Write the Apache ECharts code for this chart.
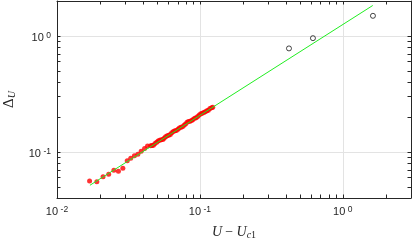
<!DOCTYPE html>
<html>
<head>
<meta charset="utf-8">
<script src="https://cdn.jsdelivr.net/npm/echarts@6/dist/echarts.min.js"></script>
<style>html,body{margin:0;padding:0;background:#fff}#c{width:415px;height:241px}</style>
</head>
<body>
<div id="c"></div>
<script>
// ---- data ----
const redX = [0.0169,0.0190,0.0210,0.0230,0.0250,0.0269,0.0289,0.0310,0.0328,0.0348,0.0368,0.0388,0.0410,0.0430,
  0.0452,0.0462,0.0473,0.0485,0.0498,0.0510,0.0522,0.0536,0.0550,0.0562,0.0575,0.0590,0.0605,0.0621,0.0635,0.0652,
  0.0668,0.0684,0.0702,0.0718,0.0736,0.0755,0.0775,0.0793,0.0813,0.0832,0.0853,0.0875,0.0895,0.0918,0.0942,0.0964,
  0.0989,0.1014,0.1038,0.1064,0.1091,0.1119,0.1146,0.1175,0.1208,0.1230];
const redY = [0.0562,0.0551,0.0611,0.0641,0.0693,0.0679,0.0721,0.0837,0.0879,0.0925,0.0955,0.1014,0.107,0.1125,
  0.113,0.1135,0.114,0.118,0.121,0.124,0.126,0.127,0.128,0.131,0.135,0.138,0.139,0.141,0.146,0.150,
  0.152,0.153,0.157,0.161,0.163,0.165,0.170,0.174,0.180,0.183,0.184,0.186,0.190,0.195,0.197,0.202,
  0.208,0.213,0.215,0.218,0.222,0.226,0.229,0.236,0.240,0.243];
const blackX = [0.42, 0.618, 1.625];
const blackY = [0.78, 0.956, 1.49];
const fitX = [0.017, 1.62];
const fitY = [0.0515, 1.83];
const xMin = 0.01, xMax = 3, yMin = 0.04, yMax = 2;
const xTicks = [0.01,0.02,0.03,0.04,0.05,0.06,0.07,0.08,0.09,0.1,0.2,0.3,0.4,0.5,0.6,0.7,0.8,0.9,1,2,3];
const yTicks = [0.04,0.05,0.06,0.07,0.08,0.09,0.1,0.2,0.3,0.4,0.5,0.6,0.7,0.8,0.9,1,2];
const majorExps = [-2,-1,0];

const zip = (a,b) => a.map((v,i) => [v,b[i]]);
const lg = v => Math.log10(v);
const ink = '#262626';
const sans = 'Liberation Sans';
const serif = 'Liberation Serif';

function decadeLabel(v){
  const e = Math.round(lg(v));
  if (Math.abs(lg(v) - e) > 1e-6 || majorExps.indexOf(e) < 0) return '';
  return '{b|10}{g| }{s|' + e + '}';
}
const labelRich = {
  b: {fontSize: 11, fontFamily: sans, color: ink, lineHeight: 20, padding: [4,0,0,0]},
  g: {fontSize: 9, fontFamily: sans, color: ink, lineHeight: 20},
  s: {fontSize: 8.5, fontFamily: sans, color: ink, lineHeight: 9, verticalAlign: 'top', padding: [5,0,0,0]}
};
const tickOverlay = (pos, vals, min, max, line) => ({
  type: 'value', position: pos, min: lg(min), max: lg(max),
  axisLine: {show: line, onZero: false, lineStyle: {color: ink, width: 1}},
  axisTick: {show: true, inside: true, length: 3.5, customValues: vals.map(lg), lineStyle: {color: ink, width: 1}},
  axisLabel: {show: false}, splitLine: {show: false}
});

const chart = echarts.init(document.getElementById('c'), null, {renderer: 'canvas'});
chart.setOption({
  animation: false,
  backgroundColor: '#fff',
  grid: {left: 57, right: 4, top: 1, bottom: 43, containLabel: false, outerBoundsMode: 'none'},
  xAxis: [
    {type: 'log', logBase: 10, position: 'bottom', min: xMin, max: xMax,
     axisLine: {show: true, onZero: false, lineStyle: {color: ink, width: 1}},
     axisTick: {show: false},
     axisLabel: {formatter: decadeLabel, rich: labelRich, margin: 2, showMinLabel: true, showMaxLabel: true},
     splitLine: {show: true, lineStyle: {color: '#e3e3e3', width: 1}},
     name: '{i|U} {n|\u2212} {i|U}{sub|c}{subn|1}', nameLocation: 'middle', nameGap: 26,
     nameTextStyle: {rich: {
       i: {fontFamily: serif, fontStyle: 'italic', fontSize: 14, color: ink, lineHeight: 16},
       n: {fontFamily: serif, fontSize: 14, color: ink, lineHeight: 16},
       sub: {fontFamily: serif, fontStyle: 'italic', fontSize: 10, color: ink, lineHeight: 10, verticalAlign: 'bottom', padding:[6,0,0,0]},
       subn: {fontFamily: serif, fontSize: 10, color: ink, lineHeight: 10, verticalAlign: 'bottom', padding:[6,0,0,0]}
     }}},
    tickOverlay('bottom', xTicks, xMin, xMax, false),
    tickOverlay('top', xTicks, xMin, xMax, true)
  ],
  yAxis: [
    {type: 'log', logBase: 10, position: 'left', min: yMin, max: yMax,
     axisLine: {show: true, onZero: false, lineStyle: {color: ink, width: 1}},
     axisTick: {show: false},
     axisLabel: {formatter: decadeLabel, rich: labelRich, margin: 6},
     splitLine: {show: true, lineStyle: {color: '#e3e3e3', width: 1}},
     name: '{d|\u0394}{u|U}', nameLocation: 'middle', nameGap: 33,
     nameTextStyle: {rich: {
       d: {fontFamily: serif, fontSize: 15, color: ink, lineHeight: 18},
       u: {fontFamily: serif, fontStyle: 'italic', fontSize: 10, color: ink, lineHeight: 10, verticalAlign: 'bottom', padding:[6,0,0,0]}
     }}},
    tickOverlay('left', yTicks, yMin, yMax, false),
    tickOverlay('right', yTicks, yMin, yMax, true)
  ],
  series: [
    {type: 'scatter', xAxisIndex: 0, yAxisIndex: 0, data: zip(redX, redY), symbol: 'circle', symbolSize: 5,
     itemStyle: {color: '#ff0000'}, z: 2, silent: true},
    {type: 'scatter', xAxisIndex: 0, yAxisIndex: 0, data: zip(blackX, blackY), symbol: 'circle', symbolSize: 5,
     itemStyle: {color: 'rgba(255,255,255,0)', borderColor: '#000', borderWidth: 0.9}, z: 2, silent: true},
    {type: 'line', xAxisIndex: 0, yAxisIndex: 0, data: zip(fitX, fitY), showSymbol: false, symbol: 'none',
     lineStyle: {color: '#22ee22', width: 1}, z: 3, silent: true}
  ]
});
</script>
</body>
</html>
